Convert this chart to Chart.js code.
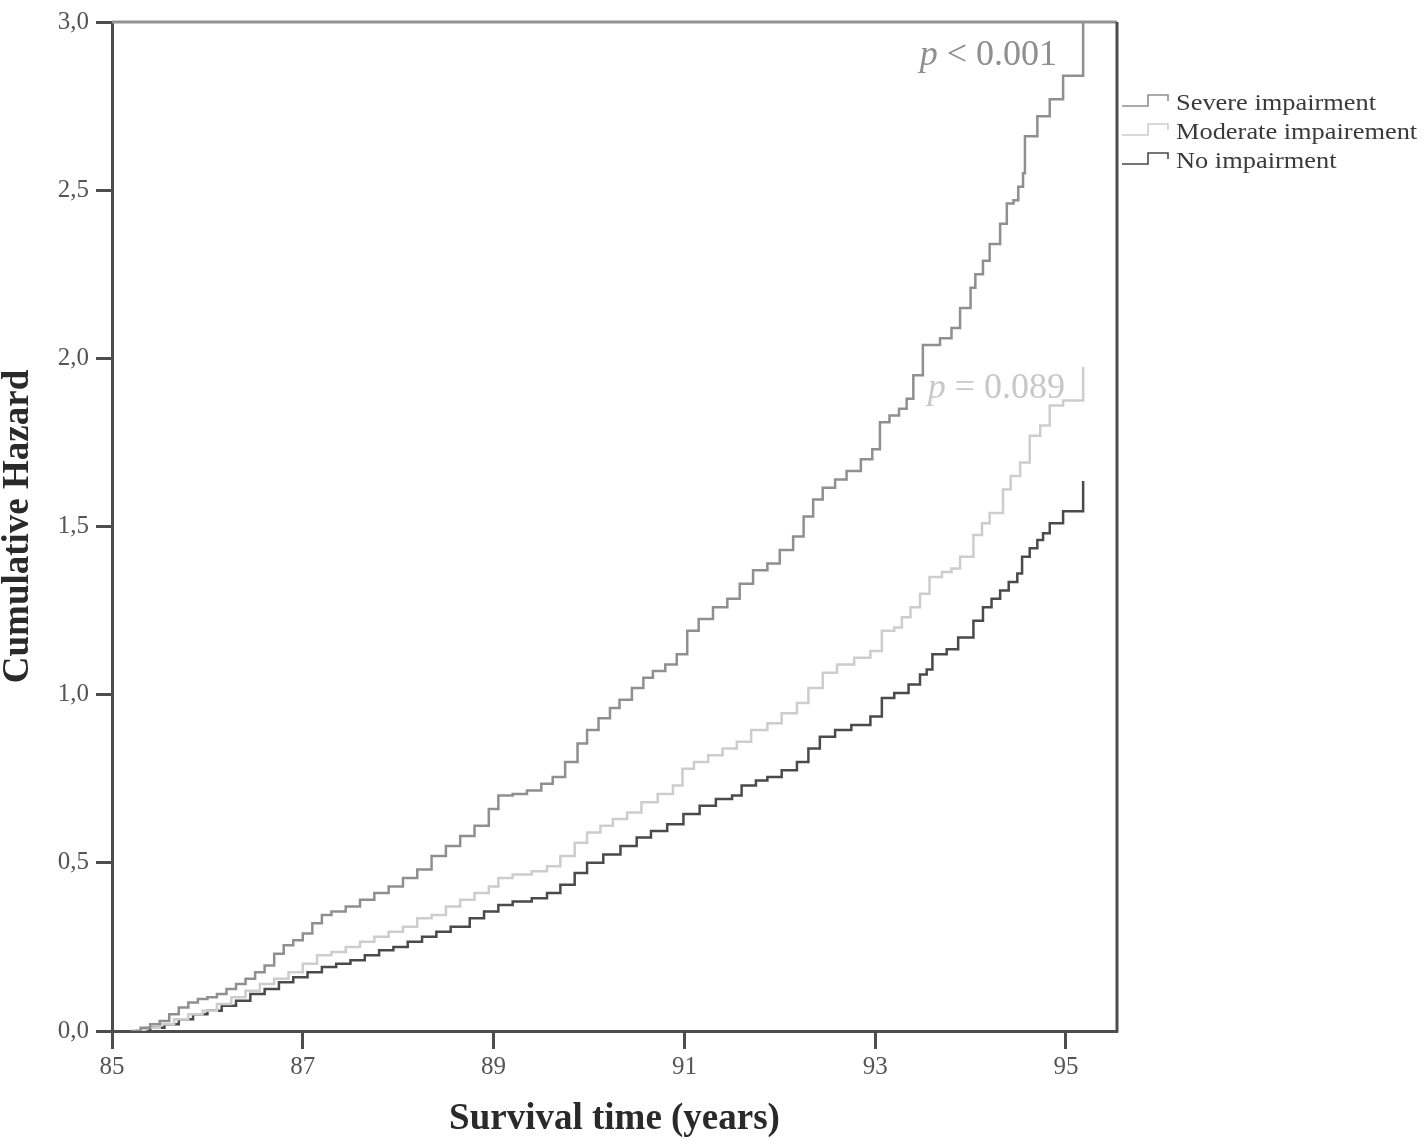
<!DOCTYPE html>
<html>
<head>
<meta charset="utf-8">
<script src="https://cdn.jsdelivr.net/npm/chart.js"></script>
<style>
  html, body { margin: 0; padding: 0; background: #fff; }
  #wrap { width: 1424px; height: 1140px; }
</style>
</head>
<body>
<div id="wrap"><canvas id="hazardChart" width="1424" height="1140"></canvas></div>
<script>
const seriesLabels = ['Severe impairment', 'Moderate impairement', 'No impairment'];
const seriesColors = ['#8f8f8f', '#cdcdcd', '#4a4a4a'];

const xTicks = [85, 87, 89, 91, 93, 95];
const yTicks = [0, 0.5, 1, 1.5, 2, 2.5, 3];

// Severe impairment
const severeTime = [85.20, 85.30, 85.40, 85.50, 85.60, 85.70, 85.80, 85.90, 86.00, 86.10, 86.20, 86.30, 86.40, 86.50, 86.60, 86.70, 86.80, 86.90, 87.00, 87.10, 87.20, 87.30, 87.45, 87.60, 87.75, 87.90, 88.05, 88.20, 88.35, 88.50, 88.65, 88.80, 88.95, 89.05, 89.20, 89.35, 89.50, 89.62, 89.75, 89.88, 89.98, 90.10, 90.22, 90.32, 90.45, 90.57, 90.67, 90.80, 90.92, 91.03, 91.15, 91.30, 91.45, 91.58, 91.72, 91.87, 92.00, 92.14, 92.25, 92.35, 92.45, 92.58, 92.70, 92.85, 92.97, 93.05, 93.15, 93.25, 93.33, 93.40, 93.50, 93.68, 93.80, 93.89, 94.00, 94.05, 94.13, 94.20, 94.31, 94.38, 94.45, 94.50, 94.55, 94.57, 94.70, 94.83, 94.97, 95.18];
const severeHazard = [0.00, 0.01, 0.02, 0.03, 0.05, 0.07, 0.085, 0.095, 0.10, 0.11, 0.125, 0.14, 0.155, 0.175, 0.195, 0.23, 0.255, 0.27, 0.29, 0.32, 0.345, 0.355, 0.37, 0.39, 0.41, 0.43, 0.455, 0.48, 0.52, 0.55, 0.58, 0.61, 0.66, 0.70, 0.705, 0.715, 0.735, 0.755, 0.80, 0.855, 0.895, 0.93, 0.96, 0.985, 1.02, 1.05, 1.07, 1.09, 1.12, 1.19, 1.225, 1.26, 1.285, 1.33, 1.37, 1.39, 1.43, 1.47, 1.53, 1.58, 1.615, 1.64, 1.665, 1.70, 1.73, 1.81, 1.83, 1.85, 1.88, 1.95, 2.04, 2.06, 2.09, 2.15, 2.21, 2.25, 2.29, 2.34, 2.40, 2.46, 2.47, 2.51, 2.55, 2.66, 2.72, 2.77, 2.84, 3.10];

// Moderate impairement
const moderateTime = [85.20, 85.35, 85.50, 85.65, 85.80, 85.95, 86.10, 86.25, 86.40, 86.55, 86.70, 86.85, 87.00, 87.15, 87.30, 87.45, 87.60, 87.75, 87.90, 88.05, 88.20, 88.35, 88.50, 88.65, 88.80, 88.95, 89.05, 89.20, 89.40, 89.56, 89.70, 89.85, 89.98, 90.12, 90.25, 90.40, 90.55, 90.72, 90.88, 90.98, 91.10, 91.25, 91.40, 91.55, 91.70, 91.87, 92.02, 92.18, 92.30, 92.45, 92.60, 92.78, 92.95, 93.07, 93.20, 93.28, 93.37, 93.47, 93.57, 93.70, 93.80, 93.89, 94.03, 94.12, 94.20, 94.34, 94.42, 94.52, 94.62, 94.73, 94.83, 94.97, 95.18];
const moderateHazard = [0.00, 0.01, 0.02, 0.035, 0.05, 0.06, 0.08, 0.10, 0.12, 0.14, 0.155, 0.175, 0.20, 0.225, 0.235, 0.25, 0.265, 0.28, 0.295, 0.31, 0.335, 0.345, 0.37, 0.39, 0.41, 0.43, 0.455, 0.465, 0.475, 0.49, 0.52, 0.56, 0.59, 0.61, 0.63, 0.65, 0.68, 0.705, 0.73, 0.78, 0.80, 0.82, 0.84, 0.86, 0.895, 0.915, 0.945, 0.975, 1.02, 1.065, 1.09, 1.11, 1.13, 1.19, 1.20, 1.23, 1.26, 1.30, 1.35, 1.365, 1.375, 1.41, 1.475, 1.51, 1.54, 1.61, 1.65, 1.69, 1.77, 1.80, 1.86, 1.875, 1.975];

// No impairment
const noneTime = [85.25, 85.40, 85.55, 85.70, 85.85, 86.00, 86.15, 86.30, 86.45, 86.60, 86.75, 86.90, 87.05, 87.20, 87.35, 87.50, 87.65, 87.80, 87.95, 88.10, 88.25, 88.40, 88.55, 88.75, 88.90, 89.05, 89.20, 89.40, 89.56, 89.70, 89.85, 89.98, 90.15, 90.33, 90.50, 90.65, 90.82, 90.99, 91.16, 91.33, 91.50, 91.60, 91.75, 91.87, 92.02, 92.18, 92.30, 92.42, 92.58, 92.75, 92.95, 93.07, 93.20, 93.35, 93.47, 93.54, 93.60, 93.75, 93.87, 94.03, 94.13, 94.22, 94.31, 94.40, 94.49, 94.54, 94.62, 94.70, 94.76, 94.83, 94.97, 95.18];
const noneHazard = [0.00, 0.01, 0.02, 0.035, 0.05, 0.06, 0.075, 0.09, 0.11, 0.125, 0.145, 0.16, 0.175, 0.19, 0.20, 0.21, 0.225, 0.24, 0.25, 0.265, 0.28, 0.295, 0.31, 0.335, 0.355, 0.375, 0.385, 0.395, 0.41, 0.435, 0.47, 0.50, 0.525, 0.55, 0.575, 0.595, 0.615, 0.645, 0.67, 0.69, 0.70, 0.73, 0.745, 0.755, 0.775, 0.80, 0.84, 0.875, 0.895, 0.91, 0.935, 0.99, 1.005, 1.03, 1.06, 1.075, 1.12, 1.135, 1.17, 1.22, 1.26, 1.285, 1.31, 1.335, 1.36, 1.41, 1.435, 1.46, 1.48, 1.51, 1.545, 1.635];

const pTexts = [
  { stat: ' < 0.001', color: '#8f8f8f', right: 1057, baseline: 65 },
  { stat: ' = 0.089', color: '#c8c8c8', right: 1065, baseline: 398 }
];

const serif = "'Liberation Serif', 'DejaVu Serif', serif";
const frameColor = '#4d4d4d';

function toPoints(times, values) {
  return times.map((t, i) => ({ x: t, y: values[i] }));
}

// little step glyph + text on the right of the plot
const stepLegend = {
  id: 'stepLegend',
  afterDraw(chart) {
    const ctx = chart.ctx;
    ctx.save();
    seriesLabels.forEach((label, i) => {
      const base = 110 + i * 29;
      ctx.strokeStyle = seriesColors[i];
      ctx.lineWidth = 1.6;
      ctx.beginPath();
      ctx.moveTo(1122, base - 4);
      ctx.lineTo(1148, base - 4);
      ctx.lineTo(1148, base - 15);
      ctx.lineTo(1168, base - 15);
      ctx.lineTo(1168, base - 9);
      ctx.stroke();
      ctx.fillStyle = '#3a3a3a';
      ctx.font = '24px ' + serif;
      ctx.textBaseline = 'alphabetic';
      ctx.textAlign = 'left';
      ctx.save();
      ctx.translate(1176, base);
      ctx.scale(1.1, 1);
      ctx.fillText(label, 0, 0);
      ctx.restore();
    });
    ctx.restore();
  }
};

// p-values and the frame lines that Chart.js does not draw
const extras = {
  id: 'extras',
  afterDraw(chart) {
    const ctx = chart.ctx;
    const a = chart.chartArea;
    ctx.save();
    ctx.lineWidth = 3;
    ctx.strokeStyle = '#939393';
    ctx.beginPath();
    ctx.moveTo(a.left, a.top);
    ctx.lineTo(a.right, a.top);
    ctx.stroke();
    ctx.strokeStyle = frameColor;
    ctx.beginPath();
    ctx.moveTo(a.right, a.top);
    ctx.lineTo(a.right, a.bottom + 1.5);
    ctx.stroke();

    pTexts.forEach(p => {
      ctx.font = '36px ' + serif;
      const w2 = ctx.measureText(p.stat).width;
      ctx.font = 'italic 36px ' + serif;
      const w1 = ctx.measureText('p').width;
      const x0 = p.right - w1 - w2;
      ctx.fillStyle = p.color;
      ctx.textBaseline = 'alphabetic';
      ctx.textAlign = 'left';
      ctx.fillText('p', x0, p.baseline);
      ctx.font = '36px ' + serif;
      ctx.fillText(p.stat, x0 + w1, p.baseline);
    });
    ctx.restore();
  }
};

const ctx = document.getElementById('hazardChart').getContext('2d');
new Chart(ctx, {
  type: 'line',
  data: {
    datasets: [
      { label: seriesLabels[0], data: toPoints(severeTime, severeHazard), borderColor: seriesColors[0] },
      { label: seriesLabels[1], data: toPoints(moderateTime, moderateHazard), borderColor: seriesColors[1] },
      { label: seriesLabels[2], data: toPoints(noneTime, noneHazard), borderColor: seriesColors[2] }
    ].map(d => Object.assign(d, { stepped: true, borderWidth: 2.5, pointRadius: 0, fill: false }))
  },
  options: {
    responsive: false,
    animation: false,
    layout: { padding: { left: 0, right: 307, top: 22, bottom: 0 } },
    plugins: { legend: { display: false }, tooltip: { enabled: false } },
    scales: {
      x: {
        type: 'linear',
        min: 85,
        max: 95.535,
        afterBuildTicks: scale => { scale.ticks = xTicks.map(v => ({ value: v })); },
        afterFit: scale => { scale.height = 109; },
        grid: { drawOnChartArea: false, drawTicks: true, tickLength: 18, tickWidth: 3, tickColor: frameColor },
        border: { display: true, color: frameColor, width: 3 },
        ticks: {
          padding: 3,
          maxRotation: 0,
          color: '#555',
          font: { family: serif, size: 25 },
          callback: v => String(v)
        },
        title: {
          display: true,
          text: 'Survival time (years)',
          color: '#2a2a2a',
          font: { family: serif, size: 37, weight: 'bold', lineHeight: 1 },
          padding: { top: 0, bottom: 2 }
        }
      },
      y: {
        type: 'linear',
        min: 0,
        max: 3,
        afterBuildTicks: scale => { scale.ticks = yTicks.map(v => ({ value: v })); },
        afterFit: scale => { scale.width = 112; },
        grid: { drawOnChartArea: false, drawTicks: true, tickLength: 16, tickWidth: 3, tickColor: frameColor },
        border: { display: true, color: frameColor, width: 3 },
        ticks: {
          padding: 7,
          color: '#555',
          font: { family: serif, size: 25 },
          callback: v => v.toFixed(1).replace('.', ',')
        },
        title: {
          display: true,
          text: 'Cumulative Hazard',
          color: '#2a2a2a',
          font: { family: serif, size: 37, weight: 'bold', lineHeight: 1 },
          padding: { top: 0, bottom: 0 }
        }
      }
    }
  },
  plugins: [stepLegend, extras]
});
</script>
</body>
</html>
